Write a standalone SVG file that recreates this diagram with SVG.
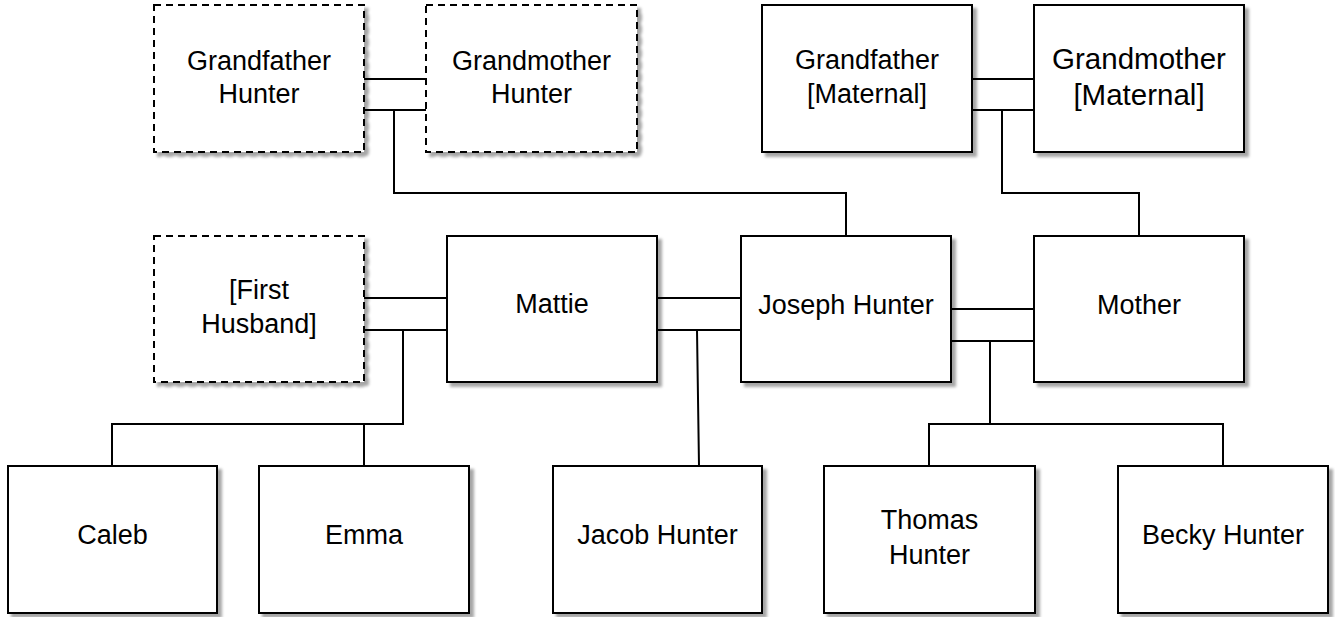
<svg xmlns="http://www.w3.org/2000/svg" width="1335" height="617" viewBox="0 0 1335 617">
<style>
.box{fill:#fff;stroke:#000;stroke-width:2;filter:url(#sh)}
.dash{stroke-dasharray:7 5}
.t{font-family:"Liberation Sans",Arial,sans-serif;font-size:27px;fill:#000;text-anchor:middle}
.big{font-size:29.5px}
.c{fill:none;stroke:#000;stroke-width:2}
</style>
<defs>
<filter id="sh" x="-5%" y="-5%" width="115%" height="115%">
<feGaussianBlur in="SourceAlpha" stdDeviation="1.5"/>
<feOffset dx="4" dy="4" result="b"/>
<feComponentTransfer><feFuncA type="linear" slope="0.35"/></feComponentTransfer>
<feMerge><feMergeNode/><feMergeNode in="SourceGraphic"/></feMerge>
</filter>
</defs>
<rect width="1335" height="617" fill="#fff"/>
<g id="connectors">
<path class="c" d="M364 79H426M364 110H426M394 110V193H846V236"/>
<path class="c" d="M972 79H1034M972 110H1034M1002 110V193H1139V236"/>
<path class="c" d="M364 298H447M364 330H447M403 330V424H112V466M364 424V466"/>
<path class="c" d="M657 298H741M657 330H741M697 330L699 466"/>
<path class="c" d="M951 309H1034M951 341H1034M990 341V424M929 466V424H1223V466"/>
</g>
<g id="gf-hunter"><rect class="box dash" x="154" y="5" width="210" height="147"/><text class="t" x="259" y="70">Grandfather</text><text class="t" x="259" y="103">Hunter</text></g>
<g id="gm-hunter"><rect class="box dash" x="426" y="5" width="211" height="147"/><text class="t" x="531.5" y="70">Grandmother</text><text class="t" x="531.5" y="103">Hunter</text></g>
<g id="gf-maternal"><rect class="box" x="762" y="5" width="210" height="147"/><text class="t" x="867" y="69">Grandfather</text><text class="t" x="867" y="103">[Maternal]</text></g>
<g id="gm-maternal"><rect class="box" x="1034" y="5" width="210" height="147"/><text class="t big" x="1139" y="69">Grandmother</text><text class="t big" x="1139" y="105">[Maternal]</text></g>
<g id="first-husband"><rect class="box dash" x="154" y="236" width="210" height="146"/><text class="t" x="259" y="299">[First</text><text class="t" x="259" y="333">Husband]</text></g>
<g id="mattie"><rect class="box" x="447" y="236" width="210" height="146"/><text class="t" x="552" y="313">Mattie</text></g>
<g id="joseph"><rect class="box" x="741" y="236" width="210" height="146"/><text class="t" x="846" y="314">Joseph Hunter</text></g>
<g id="mother"><rect class="box" x="1034" y="236" width="210" height="146"/><text class="t" x="1139" y="314">Mother</text></g>
<g id="caleb"><rect class="box" x="8" y="466" width="209" height="147"/><text class="t" x="112.5" y="544">Caleb</text></g>
<g id="emma"><rect class="box" x="259" y="466" width="210" height="147"/><text class="t" x="364" y="544">Emma</text></g>
<g id="jacob"><rect class="box" x="553" y="466" width="209" height="147"/><text class="t" x="657.5" y="544">Jacob Hunter</text></g>
<g id="thomas"><rect class="box" x="824" y="466" width="211" height="147"/><text class="t" x="929.5" y="529">Thomas</text><text class="t" x="929.5" y="564">Hunter</text></g>
<g id="becky"><rect class="box" x="1118" y="466" width="210" height="147"/><text class="t" x="1223" y="544">Becky Hunter</text></g>
</svg>
